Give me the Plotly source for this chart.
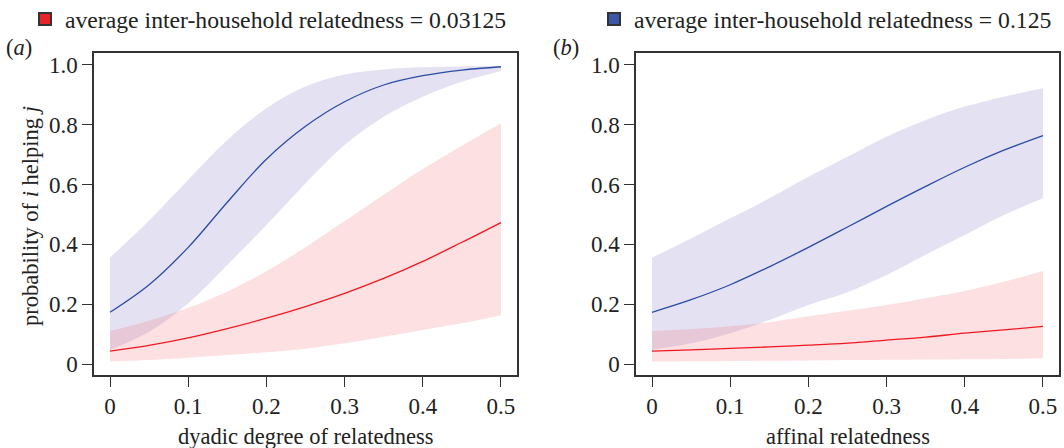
import plotly.graph_objects as go

# ---- data ----
x_vals = [0, 0.05, 0.1, 0.15, 0.2, 0.25, 0.3, 0.35, 0.4, 0.45, 0.5]

# panel (a): dyadic degree of relatedness
blue_mean_a = [0.173, 0.265, 0.390, 0.541, 0.685, 0.795, 0.877, 0.933, 0.964, 0.983, 0.994]
blue_upper_a = [0.356, 0.480, 0.616, 0.749, 0.855, 0.928, 0.968, 0.985, 0.992, 0.995, 0.997]
blue_lower_a = [0.047, 0.108, 0.203, 0.331, 0.465, 0.604, 0.732, 0.827, 0.894, 0.944, 0.980]
red_mean_a = [0.043, 0.062, 0.087, 0.118, 0.153, 0.192, 0.236, 0.286, 0.343, 0.407, 0.473]
red_upper_a = [0.110, 0.145, 0.188, 0.242, 0.310, 0.390, 0.478, 0.566, 0.652, 0.730, 0.805]
red_lower_a = [0.008, 0.013, 0.021, 0.030, 0.039, 0.051, 0.069, 0.091, 0.114, 0.136, 0.163]

# panel (b): affinal relatedness
blue_mean_b = [0.173, 0.215, 0.265, 0.325, 0.390, 0.458, 0.527, 0.594, 0.658, 0.715, 0.764]
blue_upper_b = [0.356, 0.420, 0.487, 0.554, 0.626, 0.693, 0.760, 0.816, 0.861, 0.894, 0.922]
blue_lower_b = [0.048, 0.069, 0.103, 0.147, 0.197, 0.240, 0.298, 0.365, 0.431, 0.498, 0.554]
red_mean_b = [0.043, 0.047, 0.052, 0.057, 0.063, 0.070, 0.080, 0.090, 0.103, 0.114, 0.126]
red_upper_b = [0.110, 0.117, 0.126, 0.140, 0.160, 0.178, 0.197, 0.220, 0.244, 0.275, 0.311]
red_lower_b = [0.008, 0.009, 0.010, 0.011, 0.012, 0.013, 0.014, 0.015, 0.016, 0.017, 0.019]

x_ticks = [0, 0.1, 0.2, 0.3, 0.4, 0.5]
x_ticktext = ["0", "0.1", "0.2", "0.3", "0.4", "0.5"]
y_ticks = [0, 0.2, 0.4, 0.6, 0.8, 1.0]
y_ticktext = ["0", "0.2", "0.4", "0.6", "0.8", "1.0"]

legend_red = "average inter-household relatedness = 0.03125"
legend_blue = "average inter-household relatedness = 0.125"
x_titles = ["dyadic degree of relatedness", "affinal relatedness"]
y_title = "probability of <i>i</i> helping <i>j</i>"
panel_labels = ["(<i>a</i>)", "(<i>b</i>)"]

# ---- style ----
FONT = "Liberation Serif"
FS_TICK = 23
FS_TITLE = 22.5
FS_LEG = 23.7
BLUE_LINE = "#2b4ba4"
RED_LINE = "#f01820"
BLUE_FILL = "rgba(120,110,190,0.2)"
RED_FILL = "rgba(240,100,110,0.2)"
TXT = "#222"

W, H = 1064, 448
dom_a = [94 / W, 517 / W]
dom_b = [636 / W, 1059 / W]
dom_y = [1 - 375 / H, 1 - 53 / H]

fig = go.Figure()

panels = [
    ("x", "y", blue_mean_a, blue_upper_a, blue_lower_a, red_mean_a, red_upper_a, red_lower_a),
    ("x2", "y2", blue_mean_b, blue_upper_b, blue_lower_b, red_mean_b, red_upper_b, red_lower_b),
]

for xa, ya, bm, bu, bl, rm, ru, rl in panels:
    for lo, up, fillc in [(bl, bu, BLUE_FILL), (rl, ru, RED_FILL)]:
        fig.add_trace(go.Scatter(x=x_vals, y=lo, mode="lines", line=dict(width=0, shape="spline", smoothing=1),
                                 xaxis=xa, yaxis=ya, showlegend=False, hoverinfo="skip"))
        fig.add_trace(go.Scatter(x=x_vals, y=up, mode="lines", line=dict(width=0, shape="spline", smoothing=1),
                                 fill="tonexty", fillcolor=fillc,
                                 xaxis=xa, yaxis=ya, showlegend=False, hoverinfo="skip"))
    fig.add_trace(go.Scatter(x=x_vals, y=bm, mode="lines",
                             line=dict(color=BLUE_LINE, width=1.3, shape="spline", smoothing=1),
                             xaxis=xa, yaxis=ya, showlegend=False))
    fig.add_trace(go.Scatter(x=x_vals, y=rm, mode="lines",
                             line=dict(color=RED_LINE, width=1.3, shape="spline", smoothing=1),
                             xaxis=xa, yaxis=ya, showlegend=False))

# legend key traces
fig.add_trace(go.Scatter(x=[None], y=[None], mode="markers", name=legend_red,
                         marker=dict(symbol="square", size=12, color="#e8232a", line=dict(color="#333", width=1)),
                         legend="legend"))
fig.add_trace(go.Scatter(x=[None], y=[None], mode="markers", name=legend_blue,
                         marker=dict(symbol="square", size=12, color="#3a57a8", line=dict(color="#333", width=1)),
                         legend="legend2"))

axis_common = dict(
    showgrid=False, zeroline=False, showline=True, mirror=True,
    linecolor="#333", linewidth=1.5, ticks="outside", ticklen=10, tickwidth=1.2, tickcolor="#333",
    tickfont=dict(family=FONT, size=FS_TICK, color=TXT),
)

fig.update_layout(
    width=W, height=H,
    margin=dict(l=0, r=0, t=0, b=0, autoexpand=False),
    paper_bgcolor="white", plot_bgcolor="white",
    font=dict(family=FONT, size=FS_TITLE, color=TXT),
    xaxis=dict(domain=dom_a, range=[-0.0205, 0.5205], tickvals=x_ticks, ticktext=x_ticktext, anchor="y", **axis_common),
    yaxis=dict(domain=dom_y, range=[-0.0368, 1.040], tickvals=y_ticks, ticktext=y_ticktext, anchor="x", **axis_common),
    xaxis2=dict(domain=dom_b, range=[-0.0205, 0.5205], tickvals=x_ticks, ticktext=x_ticktext, anchor="y2", **axis_common),
    yaxis2=dict(domain=dom_y, range=[-0.0368, 1.040], tickvals=y_ticks, ticktext=y_ticktext, anchor="x2", **axis_common),
    legend=dict(x=25 / W, y=1 - 19 / H, xanchor="left", yanchor="middle", bgcolor="rgba(0,0,0,0)",
                font=dict(family=FONT, size=FS_LEG, color=TXT), itemsizing="constant"),
    legend2=dict(x=594 / W, y=1 - 19 / H, xanchor="left", yanchor="middle", bgcolor="rgba(0,0,0,0)",
                 font=dict(family=FONT, size=FS_LEG, color=TXT), itemsizing="constant"),
    showlegend=True,
)

annotations = [
    dict(text=x_titles[0], x=(dom_a[0] + dom_a[1]) / 2, y=1 - 436 / H, xref="paper", yref="paper",
         showarrow=False, font=dict(family=FONT, size=FS_TITLE, color=TXT), xanchor="center", yanchor="middle"),
    dict(text=x_titles[1], x=(dom_b[0] + dom_b[1]) / 2, y=1 - 436 / H, xref="paper", yref="paper",
         showarrow=False, font=dict(family=FONT, size=FS_TITLE, color=TXT), xanchor="center", yanchor="middle"),
    dict(text=y_title, x=30 / W, y=1 - 216 / H, xref="paper", yref="paper", textangle=-90,
         showarrow=False, font=dict(family=FONT, size=FS_TITLE, color=TXT), xanchor="center", yanchor="middle"),
    dict(text=panel_labels[0], x=19 / W, y=1 - 47 / H, xref="paper", yref="paper",
         showarrow=False, font=dict(family=FONT, size=FS_TITLE, color=TXT), xanchor="center", yanchor="middle"),
    dict(text=panel_labels[1], x=566 / W, y=1 - 47 / H, xref="paper", yref="paper",
         showarrow=False, font=dict(family=FONT, size=FS_TITLE, color=TXT), xanchor="center", yanchor="middle"),
]
fig.update_layout(annotations=annotations)

fig.write_html("out.html", config={"displayModeBar": False},
               post_script="document.body.style.margin='0';document.body.style.overflow='hidden';")
